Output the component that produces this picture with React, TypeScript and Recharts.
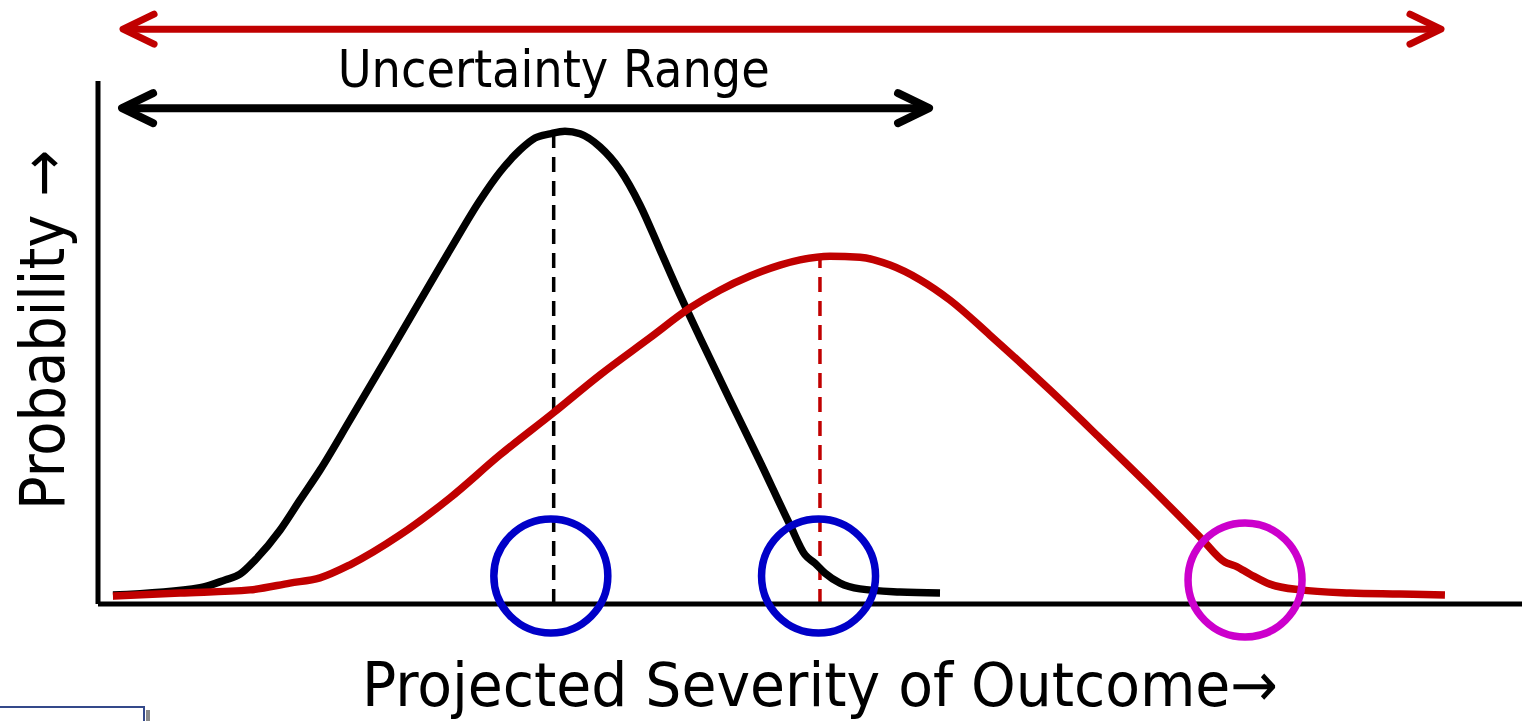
import React from 'react';
import { LineChart, Line, XAxis, YAxis, ReferenceLine, ReferenceDot, Customized } from 'recharts';

// Current projection (black) – x: severity, y: probability
const currentX = [1.05, 7.16, 8.92, 9.97, 11.03, 12.78, 14.19, 15.59, 17.7, 21.21, 24.72, 26.83, 28.23, 29.63, 30.69, 31.74, 32.79, 33.85, 35.25, 36.66, 38.06, 39.47, 40.87, 42.28, 44.38, 46.49, 48.6, 49.65, 50.35, 51.05, 52.11, 53.51, 56.32, 59.13];
const currentY = [1.7, 3.1, 4.6, 5.7, 8.4, 14.1, 19.9, 25.6, 35.2, 51.4, 67.7, 77.2, 82.6, 86.8, 89.1, 89.9, 90.4, 89.9, 87.4, 83.0, 76.3, 67.7, 59.1, 50.9, 39.0, 27.2, 15.1, 9.4, 7.8, 5.9, 4.0, 2.9, 2.3, 2.1];

// Shifted projection (red)
const shiftedX = [1.05, 5.76, 10.67, 13.48, 15.59, 17.7, 21.21, 24.72, 28.23, 31.95, 35.25, 38.76, 41.57, 43.68, 45.79, 47.89, 49.3, 51.4, 53.51, 55.62, 57.72, 59.83, 62.64, 66.85, 70.37, 73.88, 77.39, 79.14, 79.85, 80.9, 82.3, 84.41, 87.92, 91.43, 94.59];
const shiftedY = [1.5, 2.1, 2.7, 4.0, 5.0, 7.5, 13.2, 20.3, 28.5, 36.5, 43.8, 50.9, 56.6, 60.0, 62.7, 64.8, 65.8, 66.5, 66.3, 64.8, 62.0, 58.1, 51.4, 40.9, 31.7, 22.4, 12.8, 8.0, 7.3, 5.7, 3.8, 2.7, 2.1, 1.9, 1.7];

// Modes (peaks)
const currentMode = { x: 32.0, y: 90.2 };
const shiftedMode = { x: 50.7, y: 66.5 };

// Highlight circles
const circleX = [31.8, 50.6, 80.55];
const circleY = [5.35, 5.35, 4.59];
const circleColors = ['#0000C8', '#0000C8', '#CC00CC'];

// Range arrows
const fullRange = { x1: 1.76, x2: 94.31, y: 109.9 };
const uncertaintyRange = { x1: 1.69, x2: 58.36, y: 94.8 };
const uncertaintyLabel = { text: 'Uncertainty Range', x: 32.0, y: 98.85 };

const xLabel = 'Projected Severity of Outcome\u2192';
const yLabel = 'Probability \u2192';

const currentData = currentX.map((x, i) => ({ x, y: currentY[i] }));
const shiftedData = shiftedX.map((x, i) => ({ x, y: shiftedY[i] }));

const FONT = '"DejaVu Sans Condensed", "DejaVu Sans", Verdana, sans-serif';

const makeArrow = (color: string, width: number) => (props: any) => {
  const { x1, y1, x2, y2 } = props;
  const h = 31;
  const w = 15;
  return (
    <g fill="none" stroke={color} strokeWidth={width} strokeLinecap="round" strokeLinejoin="round">
      <line x1={x1 + 3} y1={y1} x2={x2 - 3} y2={y2} strokeLinecap="butt" />
      <polyline points={`${x1 + h},${y1 - w} ${x1},${y1} ${x1 + h},${y1 + w}`} />
      <polyline points={`${x2 - h},${y2 - w} ${x2},${y2} ${x2 - h},${y2 + w}`} />
    </g>
  );
};

const Box = () => (
  <g>
    <rect x={146} y={710} width={4} height={20} fill="#8a8a8a" />
    <rect x={-4} y={707} width={148} height={30} fill="#ffffff" stroke="#34498A" strokeWidth={2} />
  </g>
);

export default function App() {
  return (
    <div style={{ position: 'absolute', left: 0, top: 0, background: '#fff' }}>
      <LineChart
        width={1522}
        height={721}
        margin={{ top: 81, right: 0, left: 0, bottom: 0 }}
        style={{ fontFamily: FONT }}
      >
        <XAxis
          type="number"
          dataKey="x"
          domain={[0, 100]}
          allowDataOverflow
          tick={false}
          tickLine={false}
          height={117}
          axisLine={{ stroke: '#000', strokeWidth: 5 }}
          label={{
            content: (p: any) => {
              const vb = p.viewBox || { x: 98, y: 604 };
              return (
                <text x={vb.x + 264} y={vb.y + 102} fontSize={61} fill="#000" fontFamily={FONT} textLength={916} lengthAdjust="spacingAndGlyphs">
                  {xLabel}
                </text>
              );
            },
          }}
        />
        <YAxis
          type="number"
          dataKey="y"
          domain={[0, 100]}
          allowDataOverflow
          tick={false}
          tickLine={false}
          width={98}
          axisLine={{ stroke: '#000', strokeWidth: 5 }}
          label={{
            content: (p: any) => {
              const vb = p.viewBox || { x: 0, y: 81 };
              const cx = 64;
              const cy = vb.y + 249;
              return (
                <text x={cx} y={cy} fontSize={62} fill="#000" fontFamily={FONT} textAnchor="middle" transform={`rotate(-90, ${cx}, ${cy})`} textLength={360} lengthAdjust="spacingAndGlyphs">
                  {yLabel}
                </text>
              );
            },
          }}
        />
        <ReferenceLine
          segment={[{ x: currentMode.x, y: 0 }, { x: currentMode.x, y: currentMode.y }]}
          stroke="#000"
          strokeWidth={3.5}
          strokeDasharray="15 9"
          ifOverflow="visible"
        />
        <ReferenceLine
          segment={[{ x: shiftedMode.x, y: 0 }, { x: shiftedMode.x, y: shiftedMode.y }]}
          stroke="#C00000"
          strokeWidth={3.5}
          strokeDasharray="15 9"
          ifOverflow="visible"
        />
        <Line data={currentData} dataKey="y" type="monotone" stroke="#000" strokeWidth={7.5} dot={false} isAnimationActive={false} />
        <Line data={shiftedData} dataKey="y" type="monotone" stroke="#C00000" strokeWidth={7.5} dot={false} isAnimationActive={false} />
        {circleX.map((cx, i) => (
          <ReferenceDot key={i} x={cx} y={circleY[i]} r={57} fill="none" stroke={circleColors[i]} strokeWidth={7.5} ifOverflow="visible" />
        ))}
        <ReferenceLine
          segment={[{ x: fullRange.x1, y: fullRange.y }, { x: fullRange.x2, y: fullRange.y }]}
          ifOverflow="visible"
          shape={makeArrow('#C00000', 7)}
        />
        <ReferenceLine
          segment={[{ x: uncertaintyRange.x1, y: uncertaintyRange.y }, { x: uncertaintyRange.x2, y: uncertaintyRange.y }]}
          ifOverflow="visible"
          shape={makeArrow('#000', 8)}
        />
        <ReferenceDot
          x={uncertaintyLabel.x}
          y={uncertaintyLabel.y}
          ifOverflow="visible"
          shape={(p: any) => (
            <text x={p.cx} y={p.cy} fontSize={51} fill="#000" fontFamily={FONT} textAnchor="middle" textLength={432} lengthAdjust="spacingAndGlyphs">
              {uncertaintyLabel.text}
            </text>
          )}
        />
        <Customized component={<Box />} />
      </LineChart>
    </div>
  );
}
